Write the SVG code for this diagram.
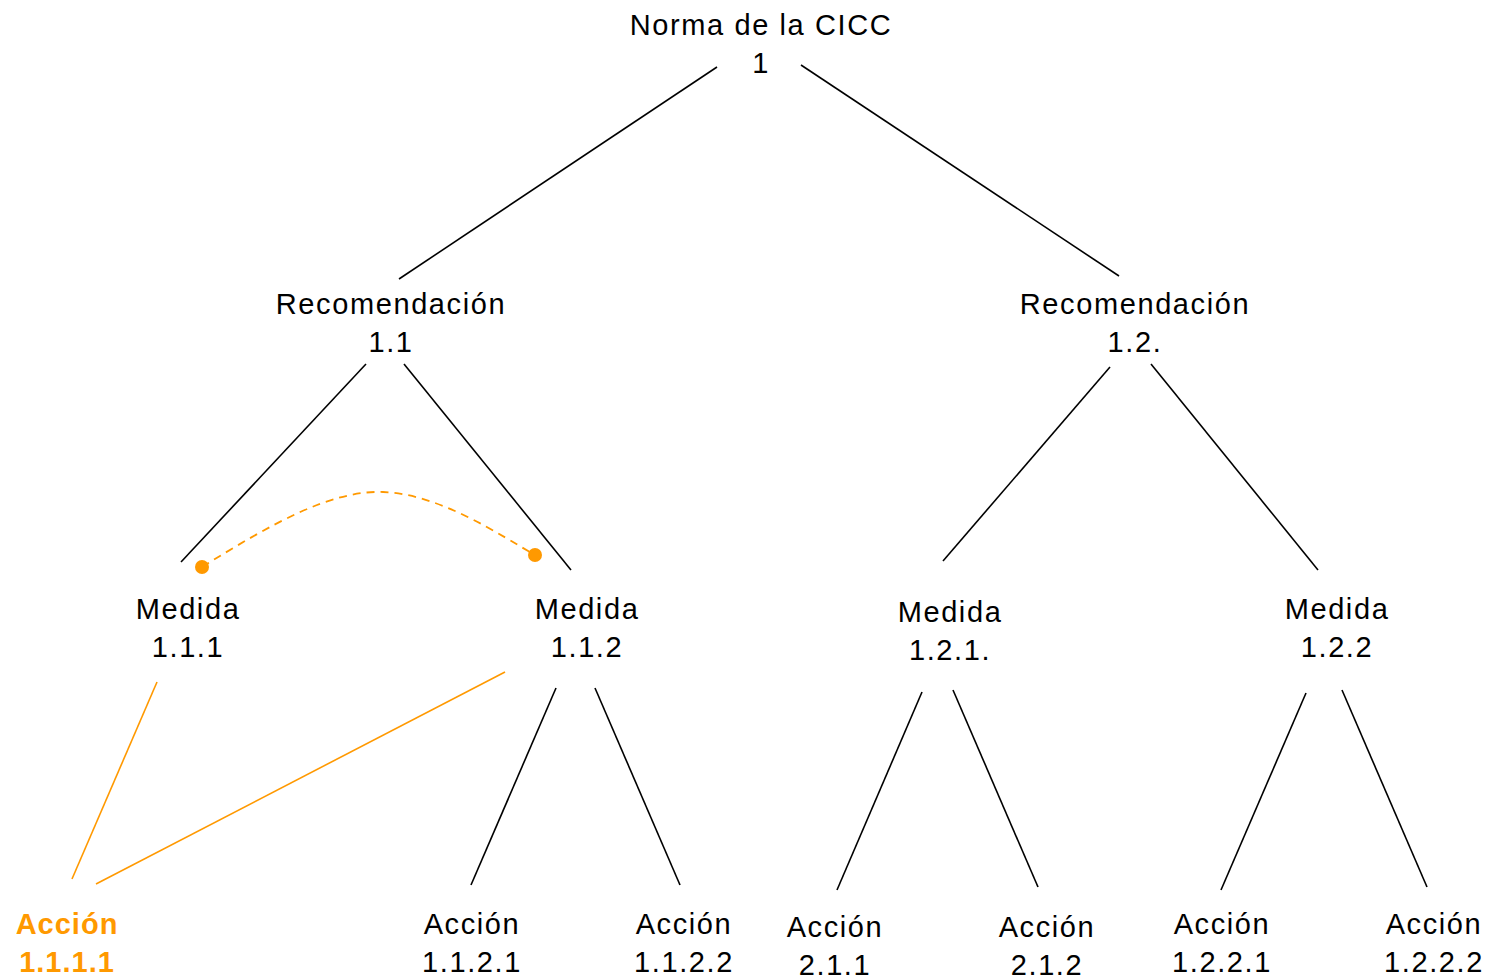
<svg xmlns="http://www.w3.org/2000/svg" width="1490" height="978" viewBox="0 0 1490 978">
<style>
text{font-family:"Liberation Sans",Arial,sans-serif;font-size:29px;letter-spacing:1.6px;fill:#000;text-anchor:middle}
.hl{fill:#FF9900;font-weight:bold;letter-spacing:1px}
.ln{stroke:#000;stroke-width:1.6;fill:none}
.ol{stroke:#FF9900;stroke-width:1.6;fill:none}
.dash{stroke:#FF9900;stroke-width:1.8;fill:none;stroke-dasharray:8 6}
.dot{fill:#FF9900}
</style>
<rect width="1490" height="978" fill="#fff"/>
<g id="connectors">
<line class="ln" x1="717" y1="67" x2="399" y2="279"/>
<line class="ln" x1="801" y1="65" x2="1119" y2="276"/>
<line class="ln" x1="366" y1="364" x2="181" y2="562"/>
<line class="ln" x1="404" y1="364" x2="571" y2="570"/>
<line class="ln" x1="1110" y1="367" x2="943" y2="561"/>
<line class="ln" x1="1151" y1="364" x2="1318" y2="570"/>
<line class="ol" x1="157" y1="682" x2="72" y2="879"/>
<line class="ol" x1="505" y1="672" x2="96" y2="884"/>
<line class="ln" x1="556" y1="688" x2="471" y2="885"/>
<line class="ln" x1="595" y1="688" x2="680" y2="885"/>
<line class="ln" x1="922" y1="692" x2="837" y2="890"/>
<line class="ln" x1="953" y1="690" x2="1038" y2="887"/>
<line class="ln" x1="1306" y1="693" x2="1221" y2="890"/>
<line class="ln" x1="1342" y1="690" x2="1427" y2="887"/>
<path class="dash" d="M202,567 C270,525 330,490 383,492 C440,494 500,535 535,555"/>
<circle class="dot" cx="202" cy="567" r="7"/>
<circle class="dot" cx="535" cy="555" r="7"/>
</g>
<g id="n1"><text x="761" y="35">Norma de la CICC</text><text x="761" y="73">1</text></g>
<g id="n11"><text x="391" y="314">Recomendación</text><text x="391" y="352">1.1</text></g>
<g id="n12"><text x="1135" y="314">Recomendación</text><text x="1135" y="352">1.2.</text></g>
<g id="n111"><text x="188" y="619">Medida</text><text x="188" y="657">1.1.1</text></g>
<g id="n112"><text x="587" y="619">Medida</text><text x="587" y="657">1.1.2</text></g>
<g id="n121"><text x="950" y="622">Medida</text><text x="950" y="660">1.2.1.</text></g>
<g id="n122"><text x="1337" y="619">Medida</text><text x="1337" y="657">1.2.2</text></g>
<g id="a1111"><text class="hl" x="67" y="934">Acción</text><text class="hl" x="67" y="972">1.1.1.1</text></g>
<g id="a1121"><text x="472" y="934">Acción</text><text x="472" y="972">1.1.2.1</text></g>
<g id="a1122"><text x="684" y="934">Acción</text><text x="684" y="972">1.1.2.2</text></g>
<g id="a211"><text x="835" y="937">Acción</text><text x="835" y="975">2.1.1</text></g>
<g id="a212"><text x="1047" y="937">Acción</text><text x="1047" y="975">2.1.2</text></g>
<g id="a1221"><text x="1222" y="934">Acción</text><text x="1222" y="972">1.2.2.1</text></g>
<g id="a1222"><text x="1434" y="934">Acción</text><text x="1434" y="972">1.2.2.2</text></g>
</svg>
